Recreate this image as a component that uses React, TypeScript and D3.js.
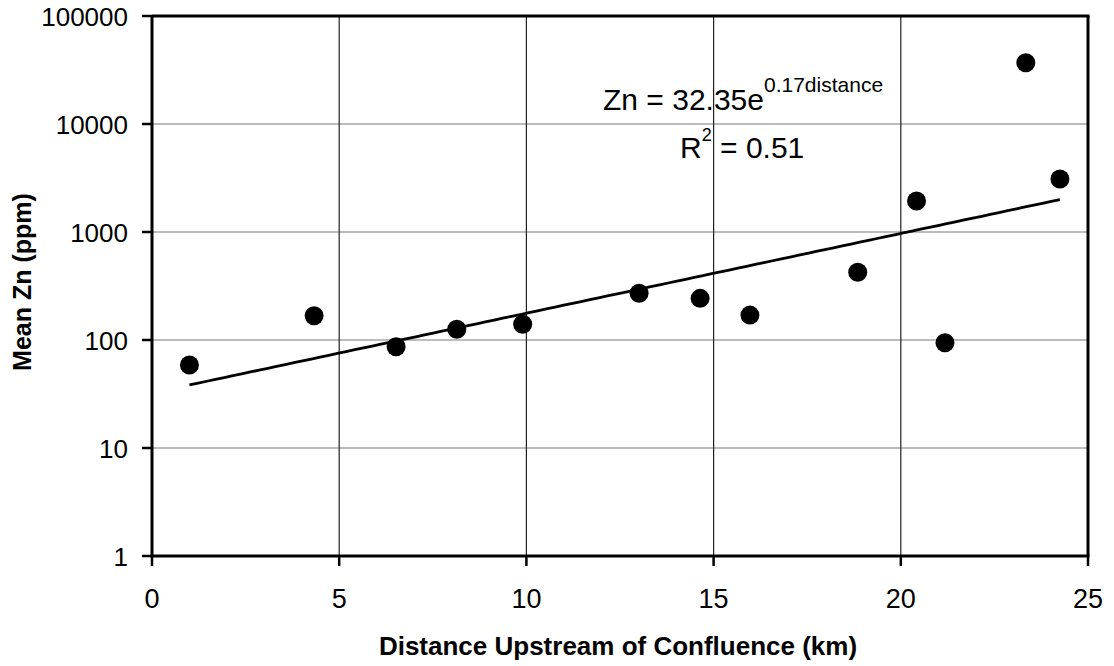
import React from "react";
import * as d3 from "d3";

const distanceKm = [1.0, 4.33, 6.52, 8.14, 9.9, 13.01, 14.64, 15.97, 18.85, 20.42, 21.18, 23.34, 24.25];
const meanZn = [58.7, 168, 86.7, 126, 140, 271, 243, 170, 424, 1936, 94.4, 36960, 3097];
const xTicks = [0, 5, 10, 15, 20, 25];
const yTicks = [1, 10, 100, 1000, 10000, 100000];
const fitA = 32.35;
const fitB = 0.17;

const W = 1114;
const H = 666;
const M = { left: 152, right: 1088, top: 16, bottom: 556 };
const FONT = "'Liberation Sans', Arial, Helvetica, sans-serif";

export default function App() {
  const x = d3.scaleLinear().domain([0, 25]).range([M.left, M.right]);
  const y = d3.scaleLog().domain([1, 100000]).range([M.bottom, M.top]);

  const xMin = d3.min(distanceKm) as number;
  const xMax = d3.max(distanceKm) as number;
  const fitPts = d3.range(0, 101).map((i) => {
    const d = xMin + ((xMax - xMin) * i) / 100;
    return [d, fitA * Math.exp(fitB * d)] as [number, number];
  });
  const line = d3
    .line<[number, number]>()
    .x((d) => x(d[0]))
    .y((d) => y(d[1]));

  return (
    <div style={{ position: "absolute", left: 0, top: 0 }}>
      <svg width={W} height={H} style={{ display: "block", background: "#fff" }} fontFamily={FONT}>
        {/* horizontal gridlines */}
        {yTicks.slice(1, -1).map((t) => (
          <line key={"hg" + t} x1={M.left} x2={M.right} y1={y(t)} y2={y(t)} stroke="#7a7a7a" strokeWidth={1.2} />
        ))}
        {/* vertical gridlines */}
        {xTicks.slice(1, -1).map((t) => (
          <line key={"vg" + t} x1={x(t)} x2={x(t)} y1={M.top} y2={M.bottom} stroke="#222" strokeWidth={1.2} />
        ))}
        {/* frame */}
        <line x1={M.left} x2={M.right + 1.5} y1={M.top} y2={M.top} stroke="#000" strokeWidth={3} />
        <line x1={M.right} x2={M.right} y1={M.top} y2={M.bottom} stroke="#000" strokeWidth={3} />
        <line x1={M.left} x2={M.left} y1={M.top} y2={M.bottom + 1.5} stroke="#000" strokeWidth={3} />
        <line x1={M.left - 1.5} x2={M.right + 1.5} y1={M.bottom} y2={M.bottom} stroke="#000" strokeWidth={3} />
        {/* y ticks and labels */}
        {yTicks.map((t) => (
          <g key={"yt" + t}>
            <line x1={M.left - 10} x2={M.left} y1={y(t)} y2={y(t)} stroke="#000" strokeWidth={2.5} />
            <text x={128} y={y(t) + 9.5} textAnchor="end" fontSize={26} fill="#000">
              {d3.format("d")(t)}
            </text>
          </g>
        ))}
        {/* x ticks and labels */}
        {xTicks.map((t) => (
          <g key={"xt" + t}>
            <line x1={x(t)} x2={x(t)} y1={M.bottom} y2={M.bottom + 10} stroke="#000" strokeWidth={2.5} />
            <text x={x(t)} y={608} textAnchor="middle" fontSize={27} fill="#000">
              {t}
            </text>
          </g>
        ))}
        {/* trend line */}
        <path d={line(fitPts) || ""} fill="none" stroke="#000" strokeWidth={2.8} />
        {/* points */}
        {distanceKm.map((d, i) => (
          <circle key={"p" + i} cx={x(d)} cy={y(meanZn[i])} r={9.5} fill="#000" />
        ))}
        {/* equation */}
        <text x={603} y={110} fontSize={30} fill="#000">
          Zn = 32.35e
          <tspan fontSize={21} dy={-18}>0.17distance</tspan>
        </text>
        <text x={680} y={158} fontSize={30} fill="#000">
          R<tspan fontSize={18} dy={-17}>2</tspan>
          <tspan dy={17}> = 0.51</tspan>
        </text>
        {/* axis titles */}
        <text x={618} y={655} textAnchor="middle" fontSize={26} fontWeight="bold" fill="#000">
          Distance Upstream of Confluence (km)
        </text>
        <text
          transform={`translate(31, 282) rotate(-90)`}
          textAnchor="middle"
          fontSize={25}
          fontWeight="bold"
          fill="#000"
        >
          Mean Zn (ppm)
        </text>
      </svg>
    </div>
  );
}
